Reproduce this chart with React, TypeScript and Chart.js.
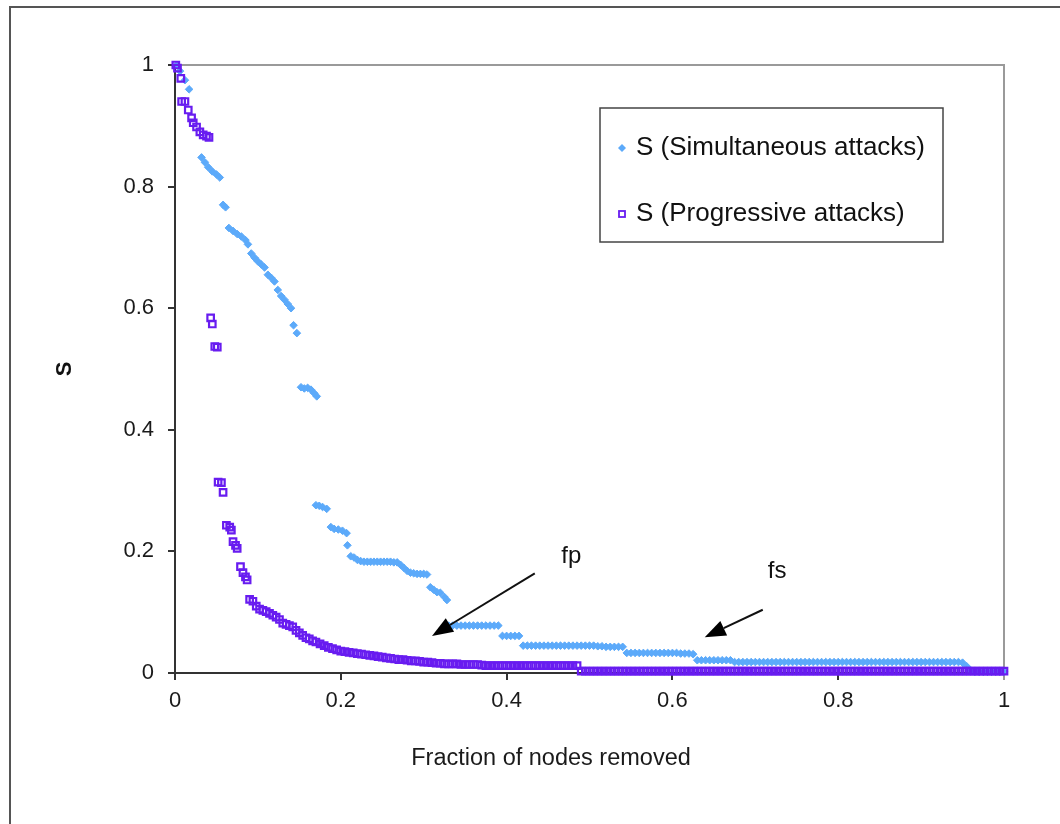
import React, { useEffect, useRef } from "react";
import { Chart, registerables } from "chart.js";

Chart.register(...registerables);

const seriesNames = ["S (Simultaneous attacks)", "S (Progressive attacks)"];
const xTitle = "Fraction of nodes removed";
const yTitle = "S";
const xTicks = [0, 0.2, 0.4, 0.6, 0.8, 1];
const xTickLabels = ["0", "0.2", "0.4", "0.6", "0.8", "1"];
const yTicks = [0, 0.2, 0.4, 0.6, 0.8, 1];
const yTickLabels = ["0", "0.2", "0.4", "0.6", "0.8", "1"];

// S for simultaneous attacks: [fraction removed, S]
const simultaneous: [number, number][] = [
  [0.002, 1.0], [0.006, 0.99], [0.012, 0.975], [0.017, 0.96], [0.032, 0.848], [0.036, 0.84],
  [0.04, 0.832], [0.045, 0.825], [0.05, 0.82], [0.054, 0.815], [0.058, 0.77], [0.061, 0.766],
  [0.065, 0.732], [0.07, 0.727], [0.075, 0.722], [0.08, 0.718], [0.085, 0.712], [0.088, 0.705],
  [0.092, 0.69], [0.096, 0.683], [0.1, 0.677], [0.104, 0.672], [0.108, 0.667], [0.112, 0.655],
  [0.116, 0.65], [0.12, 0.644], [0.124, 0.63], [0.128, 0.62], [0.132, 0.614], [0.136, 0.607],
  [0.14, 0.6], [0.143, 0.572], [0.147, 0.559], [0.152, 0.47], [0.156, 0.468], [0.16, 0.469],
  [0.164, 0.466], [0.168, 0.46], [0.171, 0.455], [0.17, 0.276], [0.174, 0.275], [0.178, 0.273],
  [0.183, 0.27], [0.188, 0.24], [0.192, 0.237], [0.197, 0.236], [0.202, 0.234], [0.207, 0.23],
  [0.208, 0.21], [0.212, 0.192], [0.216, 0.19], [0.22, 0.186], [0.224, 0.184], [0.228, 0.183],
  [0.232, 0.183], [0.236, 0.183], [0.24, 0.183], [0.244, 0.183], [0.248, 0.183], [0.252, 0.183],
  [0.256, 0.183], [0.26, 0.183], [0.264, 0.182], [0.268, 0.182], [0.272, 0.178], [0.276, 0.173],
  [0.28, 0.168], [0.284, 0.165], [0.288, 0.164], [0.292, 0.163], [0.296, 0.163], [0.3, 0.163],
  [0.304, 0.162], [0.308, 0.141], [0.312, 0.137], [0.316, 0.133], [0.32, 0.132], [0.325, 0.125],
  [0.328, 0.12],
  [0.33, 0.078], [0.335, 0.078], [0.34, 0.078], [0.345, 0.078], [0.35, 0.078], [0.355, 0.078],
  [0.36, 0.078], [0.365, 0.078], [0.37, 0.078], [0.375, 0.078], [0.38, 0.078], [0.385, 0.078],
  [0.39, 0.078],
  [0.395, 0.061], [0.4, 0.061], [0.405, 0.061], [0.41, 0.061], [0.415, 0.061],
  [0.42, 0.045], [0.425, 0.045], [0.43, 0.045], [0.435, 0.045], [0.44, 0.045], [0.445, 0.045],
  [0.45, 0.045], [0.455, 0.045], [0.46, 0.045], [0.465, 0.045], [0.47, 0.045], [0.475, 0.045],
  [0.48, 0.045], [0.485, 0.045], [0.49, 0.045], [0.495, 0.045], [0.5, 0.045], [0.505, 0.045],
  [0.51, 0.044], [0.515, 0.044], [0.52, 0.043], [0.525, 0.043], [0.53, 0.043], [0.535, 0.043],
  [0.54, 0.043],
  [0.545, 0.033], [0.55, 0.033], [0.555, 0.033], [0.56, 0.033], [0.565, 0.033], [0.57, 0.033],
  [0.575, 0.033], [0.58, 0.033], [0.585, 0.033], [0.59, 0.033], [0.595, 0.033], [0.6, 0.033],
  [0.605, 0.033], [0.61, 0.032], [0.615, 0.032], [0.62, 0.032], [0.625, 0.031],
  [0.63, 0.021], [0.635, 0.021], [0.64, 0.021], [0.645, 0.021], [0.65, 0.021], [0.655, 0.021],
  [0.66, 0.021], [0.665, 0.021], [0.67, 0.021],
  [0.675, 0.018], [0.68, 0.018], [0.685, 0.018], [0.69, 0.018], [0.695, 0.018], [0.7, 0.018],
  [0.705, 0.018], [0.71, 0.018], [0.715, 0.018], [0.72, 0.018], [0.725, 0.018], [0.73, 0.018],
  [0.735, 0.018], [0.74, 0.018], [0.745, 0.018], [0.75, 0.018], [0.755, 0.018], [0.76, 0.018],
  [0.765, 0.018], [0.77, 0.018], [0.775, 0.018], [0.78, 0.018], [0.785, 0.018], [0.79, 0.018],
  [0.795, 0.018], [0.8, 0.018], [0.805, 0.018], [0.81, 0.018], [0.815, 0.018], [0.82, 0.018],
  [0.825, 0.018], [0.83, 0.018], [0.835, 0.018], [0.84, 0.018], [0.845, 0.018], [0.85, 0.018],
  [0.855, 0.018], [0.86, 0.018], [0.865, 0.018], [0.87, 0.018], [0.875, 0.018], [0.88, 0.018],
  [0.885, 0.018], [0.89, 0.018], [0.895, 0.018], [0.9, 0.018], [0.905, 0.018], [0.91, 0.018],
  [0.915, 0.018], [0.92, 0.018], [0.925, 0.018], [0.93, 0.018], [0.935, 0.018], [0.94, 0.018],
  [0.945, 0.018], [0.95, 0.017],
  [0.955, 0.011], [0.96, 0.004], [0.965, 0.002], [0.97, 0.002], [0.975, 0.002], [0.98, 0.002],
  [0.985, 0.002], [0.99, 0.002], [0.995, 0.002], [1.0, 0.002],
];

// S for progressive attacks: [fraction removed, S]
const progressive: [number, number][] = [
  [0.001, 1.0], [0.003, 0.995], [0.007, 0.978], [0.008, 0.94], [0.012, 0.94], [0.016, 0.926],
  [0.02, 0.913], [0.022, 0.905], [0.026, 0.898], [0.03, 0.89], [0.034, 0.885], [0.038, 0.883],
  [0.041, 0.881], [0.043, 0.584], [0.045, 0.574], [0.048, 0.537], [0.051, 0.536], [0.052, 0.314],
  [0.056, 0.313], [0.058, 0.297], [0.062, 0.243], [0.066, 0.24], [0.068, 0.235], [0.07, 0.216],
  [0.073, 0.21], [0.075, 0.205], [0.079, 0.175], [0.082, 0.165], [0.085, 0.158], [0.087, 0.153],
  [0.09, 0.121], [0.094, 0.118], [0.098, 0.11], [0.102, 0.105], [0.106, 0.103], [0.11, 0.101],
  [0.114, 0.098], [0.118, 0.095], [0.122, 0.092], [0.126, 0.088], [0.13, 0.082], [0.134, 0.08],
  [0.138, 0.078], [0.142, 0.076], [0.146, 0.07], [0.15, 0.066], [0.154, 0.062], [0.158, 0.058],
  [0.162, 0.056], [0.166, 0.053], [0.17, 0.051], [0.175, 0.048], [0.18, 0.045], [0.185, 0.042],
  [0.19, 0.04], [0.195, 0.038], [0.2, 0.036], [0.205, 0.035], [0.21, 0.034], [0.215, 0.033],
  [0.22, 0.032], [0.225, 0.031], [0.23, 0.03], [0.235, 0.029], [0.24, 0.028], [0.245, 0.027],
  [0.25, 0.026], [0.255, 0.025], [0.26, 0.024], [0.265, 0.023], [0.27, 0.022], [0.275, 0.022],
  [0.28, 0.021], [0.285, 0.02], [0.29, 0.02], [0.295, 0.019], [0.3, 0.018], [0.305, 0.018],
  [0.31, 0.017], [0.315, 0.016], [0.32, 0.016], [0.325, 0.015], [0.33, 0.015], [0.335, 0.015],
  [0.34, 0.015], [0.345, 0.014], [0.35, 0.014], [0.355, 0.014], [0.36, 0.014], [0.365, 0.014],
  [0.37, 0.013],
  [0.375, 0.012], [0.38, 0.012], [0.385, 0.012], [0.39, 0.012], [0.395, 0.012], [0.4, 0.012],
  [0.405, 0.012], [0.41, 0.012], [0.415, 0.012], [0.42, 0.012], [0.425, 0.012], [0.43, 0.012],
  [0.435, 0.012], [0.44, 0.012], [0.445, 0.012], [0.45, 0.012], [0.455, 0.012], [0.46, 0.012],
  [0.465, 0.012], [0.47, 0.012], [0.475, 0.012], [0.48, 0.012], [0.485, 0.012],
  [0.49, 0.003], [0.495, 0.003], [0.5, 0.003], [0.505, 0.003], [0.51, 0.003], [0.515, 0.003],
  [0.52, 0.003], [0.525, 0.003], [0.53, 0.003], [0.535, 0.003], [0.54, 0.003], [0.545, 0.003],
  [0.55, 0.003], [0.555, 0.003], [0.56, 0.003], [0.565, 0.003], [0.57, 0.003], [0.575, 0.003],
  [0.58, 0.003], [0.585, 0.003], [0.59, 0.003], [0.595, 0.003], [0.6, 0.003], [0.605, 0.003],
  [0.61, 0.003], [0.615, 0.003], [0.62, 0.003], [0.625, 0.003], [0.63, 0.003], [0.635, 0.003],
  [0.64, 0.003], [0.645, 0.003], [0.65, 0.003], [0.655, 0.003], [0.66, 0.003], [0.665, 0.003],
  [0.67, 0.003], [0.675, 0.003], [0.68, 0.003], [0.685, 0.003], [0.69, 0.003], [0.695, 0.003],
  [0.7, 0.003], [0.705, 0.003], [0.71, 0.003], [0.715, 0.003], [0.72, 0.003], [0.725, 0.003],
  [0.73, 0.003], [0.735, 0.003], [0.74, 0.003], [0.745, 0.003], [0.75, 0.003], [0.755, 0.003],
  [0.76, 0.003], [0.765, 0.003], [0.77, 0.003], [0.775, 0.003], [0.78, 0.003], [0.785, 0.003],
  [0.79, 0.003], [0.795, 0.003], [0.8, 0.003], [0.805, 0.003], [0.81, 0.003], [0.815, 0.003],
  [0.82, 0.003], [0.825, 0.003], [0.83, 0.003], [0.835, 0.003], [0.84, 0.003], [0.845, 0.003],
  [0.85, 0.003], [0.855, 0.003], [0.86, 0.003], [0.865, 0.003], [0.87, 0.003], [0.875, 0.003],
  [0.88, 0.003], [0.885, 0.003], [0.89, 0.003], [0.895, 0.003], [0.9, 0.003], [0.905, 0.003],
  [0.91, 0.003], [0.915, 0.003], [0.92, 0.003], [0.925, 0.003], [0.93, 0.003], [0.935, 0.003],
  [0.94, 0.003], [0.945, 0.003], [0.95, 0.003], [0.955, 0.003], [0.96, 0.003], [0.965, 0.003],
  [0.97, 0.003], [0.975, 0.003], [0.98, 0.003], [0.985, 0.003], [0.99, 0.003], [0.995, 0.003],
  [1.0, 0.003],
];

// Arrow annotations in data coordinates
const arrowLabels = ["fp", "fs"];
const arrowTails: [number, number][] = [[0.434, 0.164], [0.709, 0.104]];
const arrowTips: [number, number][] = [[0.31, 0.061], [0.639, 0.059]];
const labelAnchors: [number, number][] = [[0.466, 0.181], [0.715, 0.156]];

const BLUE = "rgb(92, 170, 250)";
const PURPLE = "rgb(104, 28, 240)";
const FONT = '"Liberation Sans", Arial, Helvetica, sans-serif';

const framePlugin = {
  id: "frame",
  beforeDraw(chart: any) {
    const { ctx, width, height } = chart;
    ctx.save();
    ctx.fillStyle = "#fff";
    ctx.fillRect(0, 0, width, height);
    ctx.strokeStyle = "#555";
    ctx.lineWidth = 2;
    ctx.beginPath();
    ctx.moveTo(10, height + 10);
    ctx.lineTo(10, 7);
    ctx.lineTo(width + 10, 7);
    ctx.stroke();
    ctx.restore();
  },
  beforeDatasetsDraw(chart: any) {
    const { ctx, chartArea } = chart;
    ctx.save();
    ctx.strokeStyle = "#9a9a9a";
    ctx.lineWidth = 2;
    ctx.beginPath();
    ctx.moveTo(chartArea.left, chartArea.top);
    ctx.lineTo(chartArea.right, chartArea.top);
    ctx.lineTo(chartArea.right, chartArea.bottom + 7);
    ctx.stroke();
    ctx.restore();
  },
  afterDraw(chart: any) {
    // x-axis title, positioned as in the original figure (left of the plot centre)
    const { ctx, chartArea } = chart;
    ctx.save();
    ctx.fillStyle = "#1a1a1a";
    ctx.font = `23.5px ${FONT}`;
    ctx.textAlign = "center";
    ctx.textBaseline = "middle";
    ctx.fillText(xTitle, chartArea.left + 376, chartArea.bottom + 86);
    ctx.restore();
  },
};

const arrowPlugin = {
  id: "arrows",
  afterDatasetsDraw(chart: any) {
    const { ctx, scales } = chart;
    const xs = scales.x;
    const ys = scales.y;
    ctx.save();
    arrowLabels.forEach((label, i) => {
      const tx = xs.getPixelForValue(arrowTails[i][0]);
      const ty = ys.getPixelForValue(arrowTails[i][1]);
      const hx = xs.getPixelForValue(arrowTips[i][0]);
      const hy = ys.getPixelForValue(arrowTips[i][1]);
      const ang = Math.atan2(hy - ty, hx - tx);
      const len = 21;
      const half = 8;
      const bx = hx - Math.cos(ang) * len;
      const by = hy - Math.sin(ang) * len;
      ctx.strokeStyle = "#111";
      ctx.lineWidth = 2;
      ctx.beginPath();
      ctx.moveTo(tx, ty);
      ctx.lineTo(bx, by);
      ctx.stroke();
      ctx.fillStyle = "#000";
      ctx.beginPath();
      ctx.moveTo(hx, hy);
      ctx.lineTo(bx + Math.sin(ang) * half, by - Math.cos(ang) * half);
      ctx.lineTo(bx - Math.sin(ang) * half, by + Math.cos(ang) * half);
      ctx.closePath();
      ctx.fill();
      ctx.fillStyle = "#111";
      ctx.font = `24px ${FONT}`;
      ctx.textAlign = "left";
      ctx.textBaseline = "alphabetic";
      ctx.fillText(label, xs.getPixelForValue(labelAnchors[i][0]), ys.getPixelForValue(labelAnchors[i][1]));
    });
    ctx.restore();
  },
};

const legendPlugin = {
  id: "customLegend",
  afterDraw(chart: any) {
    const { ctx, chartArea } = chart;
    const bx = chartArea.left + 425;
    const by = chartArea.top + 43;
    const bw = 343;
    const bh = 134;
    ctx.save();
    ctx.fillStyle = "#fff";
    ctx.fillRect(bx, by, bw, bh);
    ctx.strokeStyle = "#444";
    ctx.lineWidth = 1.5;
    ctx.strokeRect(bx, by, bw, bh);
    const rows = [by + 40, by + 106];
    // marker 1: diamond
    ctx.fillStyle = BLUE;
    ctx.beginPath();
    ctx.moveTo(bx + 22, rows[0] - 4);
    ctx.lineTo(bx + 26, rows[0]);
    ctx.lineTo(bx + 22, rows[0] + 4);
    ctx.lineTo(bx + 18, rows[0]);
    ctx.closePath();
    ctx.fill();
    // marker 2: hollow square
    ctx.strokeStyle = PURPLE;
    ctx.lineWidth = 1.8;
    ctx.strokeRect(bx + 19, rows[1] - 3, 6, 6);
    ctx.fillStyle = "#111";
    ctx.font = `26px ${FONT}`;
    ctx.textAlign = "left";
    ctx.textBaseline = "middle";
    seriesNames.forEach((name, i) => ctx.fillText(name, bx + 36, rows[i]));
    ctx.restore();
  },
};

export default function App() {
  const canvasRef = useRef<HTMLCanvasElement | null>(null);
  useEffect(() => {
    if (!canvasRef.current) return;
    const chart = new Chart(canvasRef.current, {
      type: "scatter",
      data: {
        datasets: [
          {
            label: seriesNames[0],
            data: simultaneous.map(([x, y]) => ({ x, y })),
            pointStyle: "rectRot",
            pointRadius: 3.8,
            pointBackgroundColor: BLUE,
            pointBorderColor: BLUE,
            pointBorderWidth: 1,
            order: 2,
            clip: false,
          } as any,
          {
            label: seriesNames[1],
            data: progressive.map(([x, y]) => ({ x, y })),
            pointStyle: "rect",
            pointRadius: 4.6,
            pointBackgroundColor: "rgba(255,255,255,0)",
            pointBorderColor: PURPLE,
            pointBorderWidth: 2.2,
            order: 1,
            clip: false,
          } as any,
        ],
      },
      options: {
        animation: false,
        responsive: false,
        events: [],
        layout: { padding: { left: 0, top: 65, right: 56, bottom: 0 } },
        plugins: { legend: { display: false }, tooltip: { enabled: false } },
        scales: {
          x: {
            type: "linear",
            min: 0,
            max: 1,
            afterFit: (s: any) => { s.height = 151; },
            afterBuildTicks: (s: any) => { s.ticks = xTicks.map((v) => ({ value: v })); },
            ticks: {
              callback: (v: any) => xTickLabels[xTicks.indexOf(Number(v))] ?? "",
              font: { size: 22, family: FONT },
              color: "#1a1a1a",
              padding: 8,
              maxRotation: 0,
              autoSkip: false,
            },
            grid: { drawOnChartArea: false, drawTicks: true, tickLength: 7, color: "#333", lineWidth: 2 },
            border: { display: true, color: "#333", width: 2 },
            title: { display: false },
          },
          y: {
            type: "linear",
            min: 0,
            max: 1,
            afterFit: (s: any) => { s.width = 175; },
            afterBuildTicks: (s: any) => { s.ticks = yTicks.map((v) => ({ value: v })); },
            ticks: {
              callback: (v: any) => yTickLabels[yTicks.indexOf(Number(v))] ?? "",
              font: { size: 22, family: FONT },
              color: "#1a1a1a",
              padding: 14,
              autoSkip: false,
            },
            grid: { drawOnChartArea: false, drawTicks: true, tickLength: 7, color: "#333", lineWidth: 2 },
            border: { display: true, color: "#333", width: 2 },
            title: {
              display: true,
              text: yTitle,
              font: { size: 22, family: FONT, weight: "bold" },
              color: "#111",
              padding: { top: 52, bottom: 0 },
            },
          },
        },
      } as any,
      plugins: [framePlugin, arrowPlugin, legendPlugin],
    });
    return () => chart.destroy();
  }, []);

  return (
    <div style={{ position: "fixed", left: 0, top: 0, width: 1060, height: 824, background: "#fff" }}>
      <canvas ref={canvasRef} width={1060} height={824} style={{ display: "block" }} />
    </div>
  );
}
